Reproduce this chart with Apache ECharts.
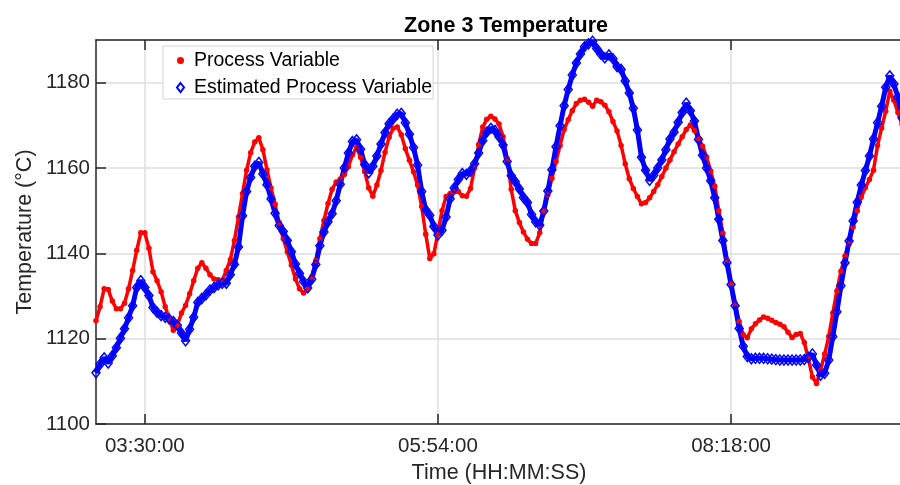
<!DOCTYPE html>
<html>
<head>
<meta charset="utf-8">
<title>Zone 3 Temperature</title>
<script src="https://cdn.jsdelivr.net/npm/echarts@6/dist/echarts.min.js"></script>
<style>
  html, body { margin: 0; padding: 0; background: #fff; }
  #chart { width: 900px; height: 485px; }
</style>
</head>
<body>
<div id="chart"></div>
<script>
// samples every 2 minutes, first one at 03:06:00
const sampleStart = '03:06:00'
const sampleStepMin = 2

const tickLabels = ['03:30:00', '05:54:00', '08:18:00']

// Process Variable (red dots)
const pvValues = [
  1124.2, 1127.5, 1131.7, 1131.5, 1128.8, 1127, 1127, 1128.3, 1131.7, 1136,
  1140.7, 1144.8, 1144.8, 1141.2, 1135.7, 1133.6, 1131, 1127.5, 1124.6, 1122,
  1123.2, 1126, 1127.8, 1130.5, 1133.6, 1136.5, 1137.8, 1136.5, 1135, 1134,
  1133.8, 1133.6, 1136, 1138.5, 1143, 1148.5, 1154, 1159.5, 1163.6, 1166.1,
  1167.1, 1164.3, 1159.6, 1155.3, 1151.5, 1147.2, 1143.4, 1140.4, 1137.2, 1134,
  1131.7, 1130.7, 1131.6, 1134.5, 1138.3, 1143.4, 1147.7, 1151.7, 1155, 1156.7,
  1157.4, 1158.5, 1160.3, 1163.1, 1164.8, 1162.5, 1159.2, 1155.3, 1153.4, 1156,
  1159.4, 1163.7, 1167.2, 1169.3, 1169.6, 1167.8, 1164.5, 1161.8, 1159.1, 1156,
  1151, 1144.5, 1138.8, 1139.9, 1144.8, 1150, 1153.3, 1154, 1154.4, 1154.5,
  1153.5, 1153.4, 1155.2, 1160, 1165.5, 1169.6, 1171.4, 1172.1, 1171.5, 1170.3,
  1167.3, 1162.2, 1155, 1150, 1147.2, 1145, 1143.3, 1142.3, 1142.3, 1144.8,
  1149.9, 1153.7, 1157.6, 1161.5, 1165.3, 1169, 1171.3, 1173.4, 1175.1, 1175.9,
  1176.1, 1175.4, 1174.5, 1175.9, 1175.5, 1174.7, 1173.2, 1170.9, 1168.7, 1165.3,
  1161, 1157.5, 1155.2, 1153.3, 1151.6, 1151.9, 1153, 1154.5, 1156.1, 1158,
  1160, 1161.9, 1163.8, 1165.6, 1167.3, 1169, 1170.1, 1168.8, 1167, 1165.1,
  1162.6, 1159.3, 1155.7, 1150, 1144.7, 1138.5, 1133, 1128.3, 1124, 1120.9,
  1120.2, 1122.3, 1123.5, 1124.4, 1125.1, 1124.8, 1124.3, 1123.8, 1123.4, 1122.8,
  1121.5, 1120.3, 1121, 1121.2, 1119.1, 1115.3, 1111, 1109.5, 1112.6, 1116.4,
  1120.5, 1126, 1131.2, 1135.8, 1139.4, 1142.2, 1146.2, 1150, 1153.2, 1155.4,
  1157.3, 1159.5, 1165.3, 1169.4, 1173.3, 1178, 1175.9, 1173, 1170.3
]

// Estimated Process Variable (blue diamonds)
const epvValues = [
  1112, 1114, 1115.5, 1114.3, 1116, 1117.9, 1120.1, 1122.3, 1124.9, 1127.7,
  1132, 1133.6, 1132, 1130.1, 1127.3, 1126.2, 1125.4, 1125, 1124.6, 1124,
  1123.1, 1121.3, 1119.5, 1122.2, 1125, 1128.5, 1129.4, 1130.3, 1131.4, 1132,
  1132.6, 1133, 1133, 1135, 1137.4, 1141.5, 1148.8, 1154.5, 1157.8, 1160.4,
  1161.3, 1158.6, 1156.1, 1152.8, 1149.4, 1146.5, 1145.1, 1143, 1140.4, 1137.5,
  1135.3, 1133.4, 1131.9, 1133.9, 1137.4, 1141.8, 1145, 1147.4, 1149.3, 1152.3,
  1156.2, 1160, 1163.5, 1166.2, 1166.6, 1164.4, 1160.8, 1158.9, 1160.4, 1162.8,
  1165.6, 1168.3, 1170.4, 1171.5, 1172.6, 1172.8, 1170.6, 1167.9, 1164.8, 1160.7,
  1154.5, 1150.2, 1148.9, 1146.3, 1144.3, 1145.4, 1148.5, 1152.8, 1155.3, 1157.3,
  1158.7, 1158.5, 1159.3, 1161, 1163.5, 1166.4, 1168.4, 1169.3, 1168.8, 1167.3,
  1165.4, 1161.5, 1158.2, 1156.8, 1155.1, 1153.1, 1151.9, 1149.1, 1147.4, 1146.6,
  1149.9, 1154.6, 1159.6, 1165, 1169.9, 1174.6, 1178.4, 1181.8, 1184.6, 1186.7,
  1188.4, 1189.1, 1189.7, 1188, 1186.7, 1185.8, 1186.5, 1185.6, 1183.8, 1183.1,
  1180.4, 1177.6, 1174, 1168.9, 1162.5, 1159.5, 1157.1, 1158.3, 1160, 1161.9,
  1164.3, 1166.8, 1168.4, 1170.7, 1173, 1175.2, 1173.4, 1171, 1166.7, 1163,
  1160, 1157, 1153, 1148, 1143, 1137.8, 1132.7, 1127.7, 1122.4, 1118.2,
  1115.8, 1115.3, 1115.4, 1115.4, 1115.4, 1115.3, 1115.2, 1115.1, 1115, 1115,
  1115, 1115, 1115, 1115, 1115.1, 1115.6, 1116.4, 1113.8, 1111.4, 1111.9,
  1115, 1120.5, 1126.3, 1132.4, 1137.8, 1142.9, 1147.6, 1152, 1156, 1159.4,
  1162.8, 1166.8, 1170.6, 1174.5, 1178.9, 1181.6, 1179.7, 1176.6, 1171.8
]

const FONT = '"Liberation Sans", Arial, Helvetica, sans-serif'
const AXIS_COLOR = '#262626'
const GRID_COLOR = '#dedede'

function toMinutes (hms) {
  const p = hms.split(':').map(Number)
  return p[0] * 60 + p[1] + p[2] / 60
}
function pad (n) {
  return (n < 10 ? '0' : '') + n
}
function toHms (min) {
  const s = Math.round(min * 60)
  return pad(Math.floor(s / 3600)) + ':' + pad(Math.floor(s / 60) % 60) + ':' + pad(s % 60)
}

const startMin = toMinutes(sampleStart)
const tickMinutes = tickLabels.map(toMinutes)
const pvData = pvValues.map((v, i) => [startMin + i * sampleStepMin, v])
const epvData = epvValues.map((v, i) => [startMin + i * sampleStepMin, v])

const axisLine = { show: true, lineStyle: { color: AXIS_COLOR, width: 1.5 } }
const axisTick = { show: true, inside: true, length: 10, lineStyle: { color: AXIS_COLOR, width: 1.5 } }
const labelStyle = { color: AXIS_COLOR, fontFamily: FONT, fontSize: 20.5 }
const nameStyle = { color: AXIS_COLOR, fontFamily: FONT, fontSize: 21.5 }
const splitLine = { show: true, lineStyle: { color: GRID_COLOR, width: 1.5 } }

const option = {
  animation: false,
  backgroundColor: '#fff',
  title: {
    text: 'Zone 3 Temperature',
    left: 501,
    top: 10,
    textAlign: 'center',
    textStyle: { fontFamily: FONT, fontSize: 21.5, fontWeight: 'bold', color: '#000' }
  },
  legend: {
    orient: 'vertical',
    left: 163,
    top: 46,
    padding: [4, 1, 1, 13],
    itemGap: 6,
    itemWidth: 7,
    itemHeight: 9,
    backgroundColor: '#fff',
    borderColor: '#d4d4d4',
    borderWidth: 1,
    textStyle: { fontFamily: FONT, fontSize: 19.5, color: '#000', lineHeight: 21, padding: [0, 0, 0, 5] },
    data: [
      { name: 'Process Variable', icon: 'circle' },
      { name: 'Estimated Process Variable', icon: 'diamond' }
    ]
  },
  grid: {
    left: 96,
    right: -2,
    top: 40,
    bottom: 61,
    // keep the plot box where it is, labels may reach the edge
    outerBoundsMode: 'none'
  },
  xAxis: [
    {
      type: 'value',
      position: 'bottom',
      min: startMin,
      max: 582,
      name: 'Time (HH:MM:SS)',
      nameLocation: 'middle',
      nameGap: 38,
      nameMoveOverlap: false,
      nameTextStyle: nameStyle,
      axisLine,
      axisTick: Object.assign({ customValues: tickMinutes }, axisTick),
      axisLabel: Object.assign({
        customValues: tickMinutes,
        margin: 12,
        formatter: (v) => toHms(v)
      }, labelStyle),
      splitLine
    },
    {
      type: 'value',
      position: 'top',
      min: startMin,
      max: 582,
      axisLine,
      axisTick: Object.assign({ customValues: tickMinutes }, axisTick),
      axisLabel: { show: false },
      splitLine: { show: false }
    }
  ],
  yAxis: {
    type: 'value',
    min: 1100,
    max: 1190,
    interval: 20,
    name: 'Temperature (°C)',
    nameLocation: 'middle',
    nameGap: 60,
    nameMoveOverlap: false,
    nameTextStyle: nameStyle,
    axisLine,
    axisTick,
    axisLabel: Object.assign({
      margin: 6,
      showMaxLabel: false,
      formatter: (v) => String(v)
    }, labelStyle),
    splitLine
  },
  series: [
    {
      name: 'Process Variable',
      type: 'line',
      xAxisIndex: 0,
      symbol: 'circle',
      symbolSize: 5.5,
      showAllSymbol: true,
      lineStyle: { color: '#ff0000', width: 3.5 },
      itemStyle: { color: '#ff0000' },
      data: pvData
    },
    {
      name: 'Estimated Process Variable',
      type: 'line',
      xAxisIndex: 0,
      symbol: 'diamond',
      symbolSize: [8, 10],
      showAllSymbol: true,
      lineStyle: { color: '#0000ff', width: 5 },
      itemStyle: { color: 'rgba(255,255,255,0)', borderColor: '#0000ff', borderWidth: 1.5 },
      data: epvData
    }
  ]
}

const myChart = echarts.init(document.getElementById('chart'))
myChart.setOption(option)
</script>
</body>
</html>
